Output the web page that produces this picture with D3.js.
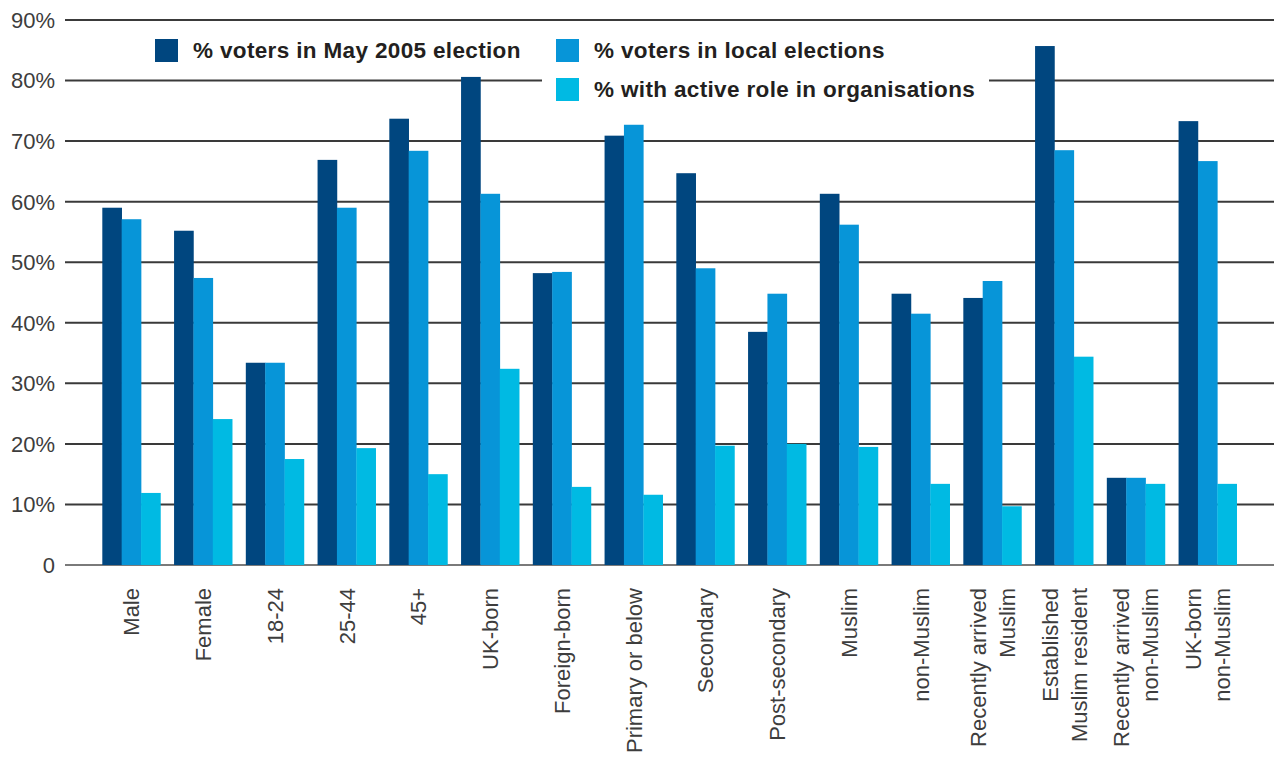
<!DOCTYPE html>
<html>
<head>
<meta charset="utf-8">
<script src="https://cdn.jsdelivr.net/npm/d3@7"></script>
<style>
  html, body { margin: 0; padding: 0; background: #fff; }
  svg { display: block; }
</style>
</head>
<body>
<svg id="chart" width="1274" height="758"></svg>
<script>
// ---- data ----
const categories = [
  ["Male"], ["Female"], ["18-24"], ["25-44"], ["45+"], ["UK-born"], ["Foreign-born"],
  ["Primary or below"], ["Secondary"], ["Post-secondary"], ["Muslim"], ["non-Muslim"],
  ["Recently arrived", "Muslim"], ["Established", "Muslim resident"],
  ["Recently arrived", "non-Muslim"], ["UK-born", "non-Muslim"]
];
const seriesNames = [
  "% voters in May 2005 election",
  "% voters in local elections",
  "% with active role in organisations"
];
const votersMay2005 = [59.0, 55.2, 33.4, 66.9, 73.7, 80.6, 48.2, 70.9, 64.7, 38.5, 61.3, 44.8, 44.1, 85.7, 14.4, 73.3];
const votersLocal   = [57.1, 47.4, 33.4, 59.0, 68.4, 61.3, 48.4, 72.7, 49.0, 44.8, 56.2, 41.5, 46.9, 68.5, 14.4, 66.7];
const activeRole    = [11.9, 24.1, 17.5, 19.3, 15.0, 32.4, 12.9, 11.6, 19.7, 20.0, 19.5, 13.4,  9.7, 34.4, 13.4, 13.4];
const yTicks = [0, 10, 20, 30, 40, 50, 60, 70, 80, 90];
const yTickLabels = ["0", "10%", "20%", "30%", "40%", "50%", "60%", "70%", "80%", "90%"];
const colors = ["#00467f", "#0795d8", "#00bae3"];

const series = [votersMay2005, votersLocal, activeRole];

// ---- layout ----
const svg = d3.select("#chart");
const plotLeft = 65, plotRight = 1274, plotTop = 20, plotBottom = 565;

const x0 = d3.scaleBand()
  .domain(d3.range(categories.length))
  .range([plotLeft, plotRight])
  .paddingInner(0.19)
  .paddingOuter(0.52);
const x1 = d3.scaleBand()
  .domain(d3.range(series.length))
  .range([0, x0.bandwidth()])
  .padding(0);
const y = d3.scaleLinear().domain([0, 90]).range([plotBottom, plotTop]);

const font = "'Liberation Sans', Arial, Helvetica, sans-serif";

// gridlines
svg.append("g").selectAll("line")
  .data(yTicks)
  .join("line")
  .attr("x1", plotLeft).attr("x2", plotRight)
  .attr("y1", d => y(d)).attr("y2", d => y(d))
  .attr("stroke", d => d === 0 ? "#7a7a7a" : "#3a3a3a")
  .attr("stroke-width", 2);

// y tick labels
svg.append("g").selectAll("text")
  .data(yTicks)
  .join("text")
  .attr("x", 55)
  .attr("y", d => y(d))
  .attr("dy", "0.36em")
  .attr("text-anchor", "end")
  .attr("font-family", font)
  .attr("font-size", 22)
  .attr("fill", "#3d3d3d")
  .text((d, i) => yTickLabels[i]);

// legend background (covers gridline behind legend)
svg.append("rect")
  .attr("x", 542).attr("y", 30).attr("width", 447).attr("height", 80)
  .attr("fill", "#fff");

// bars
const groups = svg.append("g").selectAll("g")
  .data(categories.map((c, i) => i))
  .join("g")
  .attr("transform", i => `translate(${x0(i)},0)`);

groups.selectAll("rect")
  .data(i => series.map((s, k) => ({ k, v: s[i] })))
  .join("rect")
  .attr("x", d => x1(d.k))
  .attr("width", x1.bandwidth() + 0.3)
  .attr("y", d => y(d.v))
  .attr("height", d => y(0) - y(d.v))
  .attr("fill", d => colors[d.k]);

// x labels (rotated)
const xl = svg.append("g").selectAll("g")
  .data(categories.map((c, i) => i))
  .join("g")
  .attr("transform", i => `translate(${x0(i) + x0.bandwidth() / 2},588)`);

xl.each(function(i) {
  const lines = categories[i];
  const n = lines.length;
  const lh = 29;
  d3.select(this).selectAll("text")
    .data(lines)
    .join("text")
    .attr("transform", (d, j) => `translate(${(j - (n - 1) / 2) * lh},0) rotate(-90)`)
    .attr("text-anchor", "end")
    .attr("dy", "0.36em")
    .attr("font-family", font)
    .attr("font-size", 22)
    .attr("fill", "#3d3d3d")
    .text(d => d);
});

// legend
const legendPos = [[155, 39], [556, 39], [556, 78]];
const lg = svg.append("g").selectAll("g")
  .data(seriesNames.map((n, k) => k))
  .join("g")
  .attr("transform", k => `translate(${legendPos[k][0]},${legendPos[k][1]})`);
lg.append("rect")
  .attr("width", 23).attr("height", 23)
  .attr("fill", k => colors[k]);
lg.append("text")
  .attr("x", 38).attr("y", 19)
  .attr("font-family", font)
  .attr("font-size", 22.5)
  .attr("font-weight", "bold")
  .attr("letter-spacing", 0.35)
  .attr("fill", "#231f20")
  .text(k => seriesNames[k]);
</script>
</body>
</html>
